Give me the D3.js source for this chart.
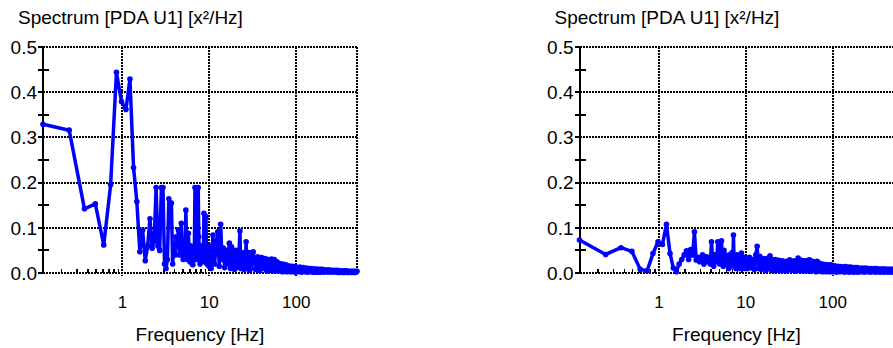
<!DOCTYPE html>
<html><head><meta charset="utf-8">
<script src="https://cdn.jsdelivr.net/npm/d3@7"></script>
<style>
body{margin:0;background:#fff;overflow:hidden}
text{font-family:Arial,"Liberation Sans",sans-serif;fill:#000}
</style>
</head><body><svg id="c" width="893" height="348"></svg>
<script>
const titleText = "Spectrum [PDA U1] [x²/Hz]";
const xLabelText = "Frequency [Hz]";
const yTicks = [0, 0.1, 0.2, 0.3, 0.4, 0.5];
const yTickLabels = ["0.0", "0.1", "0.2", "0.3", "0.4", "0.5"];
const yMinorTicks = [0.05, 0.15, 0.25, 0.35, 0.45];
const xTicks = [1, 10, 100];
const xTickLabels = ["1", "10", "100"];
const xMinorTicks = [0.2,0.3,0.4,0.5,0.6,0.7,0.8,0.9,2,3,4,5,6,7,8,9,20,30,40,50,60,70,80,90,200,300,400];
const xDomain = [0.122, 500];
const yDomain = [0, 0.5];

const freqLeft = [
0.122,0.244,0.366,0.488,0.610,0.732,0.854,0.977,1.099,1.221,
1.343,1.465,1.587,1.709,1.831,1.953,2.075,2.197,2.319,2.441,
2.563,2.686,2.808,2.930,3.052,3.174,3.296,3.418,3.540,3.662,
3.784,3.906,4.028,4.150,4.272,4.395,4.517,4.639,4.761,4.883,
5.005,5.127,5.249,5.371,5.493,5.615,5.737,5.859,5.981,6.104,
6.226,6.348,6.470,6.592,6.714,6.836,6.958,7.080,7.202,7.324,
7.446,7.568,7.690,7.812,7.935,8.057,8.179,8.301,8.423,8.545,
8.667,8.789,8.911,9.033,9.155,9.277,9.399,9.521,9.643,9.766,9.888,
10.0,10.5,11.0,11.5,12.0,12.5,13.0,13.5,14.0,14.5,15.0,15.5,16.0,16.5,17.0,17.5,18.0,18.5,19.0,19.5,
20.0,20.5,21.0,21.5,22.0,22.5,23.0,23.5,24.0,24.5,25.0,25.5,26.0,26.5,27.0,27.5,28.0,28.5,29.0,29.5,30.0,
32,34,36,38,40,42,44,46,48,50,52,54,56,58,60,62,64,66,68,70,72,74,76,78,80,82,84,86,88,90,92,94,96,98,100,
105,110,115,120,125,130,135,140,145,150,155,160,165,170,175,180,185,190,195,200,
210,220,230,240,250,260,270,280,290,300,310,320,330,340,350,360,370,380,390,400,
410,420,430,440,450,460,470,480,490,500];
const psdLeft = [
0.329,0.316,0.142,0.153,0.062,0.195,0.444,0.379,0.362,0.429,
0.233,0.158,0.047,0.095,0.027,0.060,0.120,0.055,0.070,0.189,
0.060,0.050,0.189,0.189,0.020,0.010,0.030,0.164,0.155,0.155,
0.020,0.060,0.040,0.080,0.060,0.095,0.040,0.075,0.110,0.045,
0.030,0.070,0.036,0.139,0.060,0.030,0.088,0.045,0.025,0.060,
0.040,0.020,0.018,0.050,0.030,0.189,0.060,0.030,0.045,0.100,
0.189,0.080,0.040,0.020,0.050,0.030,0.060,0.035,0.050,0.025,
0.132,0.060,0.030,0.050,0.125,0.040,0.020,0.060,0.030,0.050,0.015,
0.060,0.010,0.084,0.020,0.066,0.091,0.015,0.108,0.030,0.055,0.012,0.050,0.020,0.045,0.066,0.010,0.058,0.015,0.045,0.008,
0.050,0.012,0.040,0.020,0.050,0.093,0.010,0.045,0.015,0.040,0.008,0.045,0.020,0.069,0.010,0.040,0.015,0.045,0.006,0.042,0.010,
0.047,0.008,0.036,0.005,0.034,0.010,0.032,0.004,0.030,0.008,0.031,0.005,0.030,0.006,0.025,0.004,0.021,0.006,0.020,0.003,0.019,0.005,0.018,0.003,0.016,0.004,0.015,0.003,0.015,0.004,0.014,0.003,0.014,0.002,0.013,
0.003,0.013,0.002,0.012,0.003,0.011,0.002,0.010,0.003,0.010,0.002,0.009,0.002,0.009,0.002,0.008,0.002,0.008,0.002,0.008,
0.002,0.007,0.002,0.007,0.002,0.006,0.002,0.006,0.002,0.006,0.001,0.005,0.002,0.005,0.001,0.005,0.002,0.005,0.001,0.004,
0.002,0.004,0.001,0.004,0.002,0.004,0.001,0.004,0.002,0.004];

const freqRight = [
0.122,0.244,0.366,0.488,0.610,0.732,0.854,0.977,1.099,1.221,
1.343,1.465,1.587,1.709,1.831,1.953,2.075,2.197,2.319,2.441,
2.563,2.686,2.808,2.930,3.052,3.174,3.296,3.418,3.540,3.662,
3.784,3.906,4.028,4.150,4.272,4.395,4.517,4.639,4.761,4.883,
5.005,5.127,5.249,5.371,5.493,5.615,5.737,5.859,5.981,6.104,
6.226,6.348,6.470,6.592,6.714,6.836,6.958,7.080,7.202,7.324,
7.446,7.568,7.690,7.812,7.935,8.057,8.179,8.301,8.423,8.545,
8.667,8.789,8.911,9.033,9.155,9.277,9.399,9.521,9.643,9.766,9.888,
10.0,10.5,11.0,11.5,12.0,12.5,13.0,13.5,14.0,14.5,15.0,15.5,16.0,16.5,17.0,17.5,18.0,18.5,19.0,19.5,
20.0,20.5,21.0,21.5,22.0,22.5,23.0,23.5,24.0,24.5,25.0,25.5,26.0,26.5,27.0,27.5,28.0,28.5,29.0,29.5,30.0,
32,34,36,38,40,42,44,46,48,50,52,54,56,58,60,62,64,66,68,70,72,74,76,78,80,82,84,86,88,90,92,94,96,98,100,
105,110,115,120,125,130,135,140,145,150,155,160,165,170,175,180,185,190,195,200,
210,220,230,240,250,260,270,280,290,300,310,320,330,340,350,360,370,380,390,400,
410,420,430,440,450,460,470,480,490,500];
const psdRight = [
0.073,0.041,0.056,0.048,0.008,0.005,0.043,0.069,0.063,0.108,
0.043,0.011,0.003,0.020,0.030,0.040,0.049,0.030,0.052,0.040,
0.091,0.029,0.035,0.025,0.030,0.040,0.020,0.036,0.036,0.025,
0.030,0.020,0.069,0.030,0.015,0.040,0.025,0.035,0.069,0.030,
0.020,0.050,0.071,0.030,0.015,0.050,0.040,0.020,0.035,0.025,
0.030,0.010,0.040,0.025,0.015,0.030,0.045,0.020,0.084,0.030,
0.018,0.030,0.010,0.025,0.040,0.015,0.030,0.020,0.035,0.010,
0.030,0.025,0.044,0.020,0.010,0.030,0.020,0.035,0.015,0.025,0.010,
0.030,0.010,0.035,0.012,0.030,0.008,0.040,0.059,0.010,0.037,0.008,0.030,0.012,0.032,0.006,0.030,0.010,0.034,0.038,0.008,
0.030,0.010,0.028,0.005,0.030,0.010,0.026,0.006,0.028,0.026,0.008,0.025,0.005,0.027,0.010,0.024,0.006,0.025,0.008,0.026,0.005,
0.029,0.006,0.027,0.004,0.033,0.006,0.028,0.004,0.027,0.005,0.028,0.029,0.004,0.026,0.006,0.024,0.003,0.026,0.005,0.022,0.004,0.020,0.003,0.019,0.005,0.018,0.003,0.018,0.004,0.017,0.003,0.018,0.004,0.017,0.003,
0.016,0.002,0.015,0.003,0.014,0.013,0.002,0.014,0.003,0.013,0.002,0.013,0.003,0.012,0.002,0.012,0.003,0.012,0.002,0.011,
0.003,0.011,0.002,0.011,0.003,0.010,0.002,0.010,0.003,0.010,0.002,0.010,0.003,0.009,0.002,0.009,0.003,0.009,0.002,0.009,
0.003,0.008,0.002,0.008,0.003,0.008,0.002,0.008,0.003,0.008];

const svg = d3.select("#c");
const W = 314, H = 226;

function drawPanel(left, freq, psd) {
  const top = 47;
  const x = d3.scaleLog().domain(xDomain).range([0, W]);
  const y = d3.scaleLinear().domain(yDomain).range([H, 0]);
  const g = svg.append("g").attr("transform", `translate(${left},${top})`);

  // title
  g.append("text").attr("x", -25).attr("y", -23).attr("font-size", 19).text(titleText);

  // grid (dotted)
  const gl = g.append("g").attr("shape-rendering", "crispEdges");
  gl.selectAll("line.h").data(yTicks).join("line").attr("class", "h")
    .attr("x1", 0).attr("x2", W).attr("y1", d => Math.round(y(d))).attr("y2", d => Math.round(y(d)))
    .attr("stroke", "#000").attr("stroke-width", 2).attr("stroke-dasharray", "2,1");
  gl.selectAll("line.v").data(xTicks.concat([xDomain[1]])).join("line").attr("class", "v")
    .attr("x1", d => Math.round(x(d))).attr("x2", d => Math.round(x(d)))
    .attr("y1", 0).attr("y2", d => d === xDomain[1] ? H : H + 3)
    .attr("stroke", "#000").attr("stroke-width", 2).attr("stroke-dasharray", "2,1");

  // x minor ticks (upward)
  g.append("g").attr("shape-rendering", "crispEdges").selectAll("line").data(xMinorTicks).join("line")
    .attr("x1", d => x(d)).attr("x2", d => x(d)).attr("y1", H).attr("y2", H - 4)
    .attr("stroke", "#000").attr("stroke-width", 1.5);

  // y axis solid line
  g.append("line").attr("shape-rendering", "crispEdges")
    .attr("x1", 0).attr("x2", 0).attr("y1", 0).attr("y2", H)
    .attr("stroke", "#000").attr("stroke-width", 2);
  // y major ticks
  g.append("g").attr("shape-rendering", "crispEdges").selectAll("line").data(yTicks).join("line")
    .attr("x1", -5).attr("x2", 0).attr("y1", d => Math.round(y(d))).attr("y2", d => Math.round(y(d)))
    .attr("stroke", "#000").attr("stroke-width", 1.5);
  // y minor ticks
  g.append("g").attr("shape-rendering", "crispEdges").selectAll("line").data(yMinorTicks).join("line")
    .attr("x1", -5).attr("x2", 6).attr("y1", d => Math.round(y(d))).attr("y2", d => Math.round(y(d)))
    .attr("stroke", "#000").attr("stroke-width", 1.5);

  // y tick labels
  g.append("g").selectAll("text").data(yTicks).join("text")
    .attr("x", -6).attr("y", d => y(d)).attr("dy", "0.36em")
    .attr("text-anchor", "end").attr("font-size", 19)
    .text((d, i) => yTickLabels[i]);

  // x tick labels
  g.append("g").selectAll("text").data(xTicks).join("text")
    .attr("x", d => x(d)).attr("y", H + 35)
    .attr("text-anchor", "middle").attr("font-size", 17)
    .text((d, i) => xTickLabels[i]);

  // x label
  g.append("text").attr("x", W / 2).attr("y", H + 68).attr("text-anchor", "middle")
    .attr("font-size", 19).text(xLabelText);

  // data
  const pts = freq.map((f, i) => [f, psd[i]]);
  const line = d3.line().x(d => x(d[0])).y(d => y(d[1]));
  g.append("path").datum(pts).attr("d", line).attr("fill", "none")
    .attr("stroke", "#0000ff").attr("stroke-width", 3.5).attr("stroke-linejoin", "round");
  g.append("g").selectAll("circle").data(pts).join("circle")
    .attr("cx", d => x(d[0])).attr("cy", d => y(d[1])).attr("r", 2.8).attr("fill", "#0000ff");
}

drawPanel(43, freqLeft, psdLeft);
drawPanel(579.5, freqRight, psdRight);
</script>
</body></html>
